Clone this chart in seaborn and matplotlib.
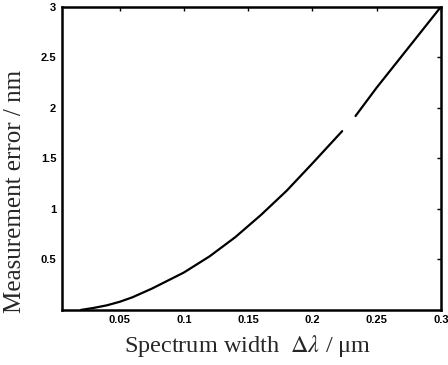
import numpy as np
import pandas as pd
import matplotlib
matplotlib.use('Agg')
import matplotlib.pyplot as plt
import seaborn as sns

# values (NaN = small break in the printed line)
width = [0.02, 0.03, 0.04, 0.05, 0.06, 0.075, 0.1, 0.12, 0.14, 0.16, 0.18,
         0.2, 0.2232, 0.228, 0.2336, 0.25, 0.275, 0.3]
error = [0.0, 0.02, 0.045, 0.08, 0.125, 0.21, 0.37, 0.53, 0.72, 0.94, 1.18,
         1.45, 1.77, np.nan, 1.92, 2.2, 2.6, 3.0]
xticks = [0.05, 0.1, 0.15, 0.2, 0.25, 0.3]
xtick_labels = ['0.05', '0.1', '0.15', '0.2', '0.25', '0.3']
yticks = [0.5, 1, 1.5, 2, 2.5, 3]
ytick_labels = ['0.5', '1', '1.5', '2', '2.5', '3']

df = pd.DataFrame({'width': width, 'error': error})

sns.set_style('white')
plt.rcParams['mathtext.fontset'] = 'stix'

fig = plt.figure(figsize=(4.48, 3.65), dpi=100)
ax = fig.add_axes([0.138, 0.151, 0.846, 0.830])

# draw segments separately so the NaN gap is kept
seg = df['error'].isna().cumsum()
for _, part in df.dropna().groupby(seg[df['error'].notna()]):
    sns.lineplot(data=part, x='width', y='error', color='black', lw=1.6,
                 ax=ax, sort=False)

ax.set_xlim(0.005, 0.3)
ax.set_ylim(0, 3)
ax.set_xticks(xticks)
ax.set_xticklabels(xtick_labels)
ax.set_yticks(yticks)
ax.set_yticklabels(ytick_labels)
ax.tick_params(direction='in', length=3, width=1, top=True, right=True,
               labelsize=8, pad=4, colors='black')
for lab in ax.get_xticklabels() + ax.get_yticklabels():
    lab.set_fontweight('bold')
    lab.set_family('Liberation Sans')
for sp in ax.spines.values():
    sp.set_linewidth(1.8)
    sp.set_color('black')

ax.set_xlabel(r'Spectrum width  $\Delta\lambda$ / μm', family='Liberation Serif',
              fontsize=17.5)
ax.set_ylabel('Measurement error / nm', family='Liberation Serif',
              fontsize=18)
ax.xaxis.set_label_coords(0.49, -0.075)
ax.yaxis.set_label_coords(-0.094, 0.39)

fig.savefig('out.png', dpi=100)
